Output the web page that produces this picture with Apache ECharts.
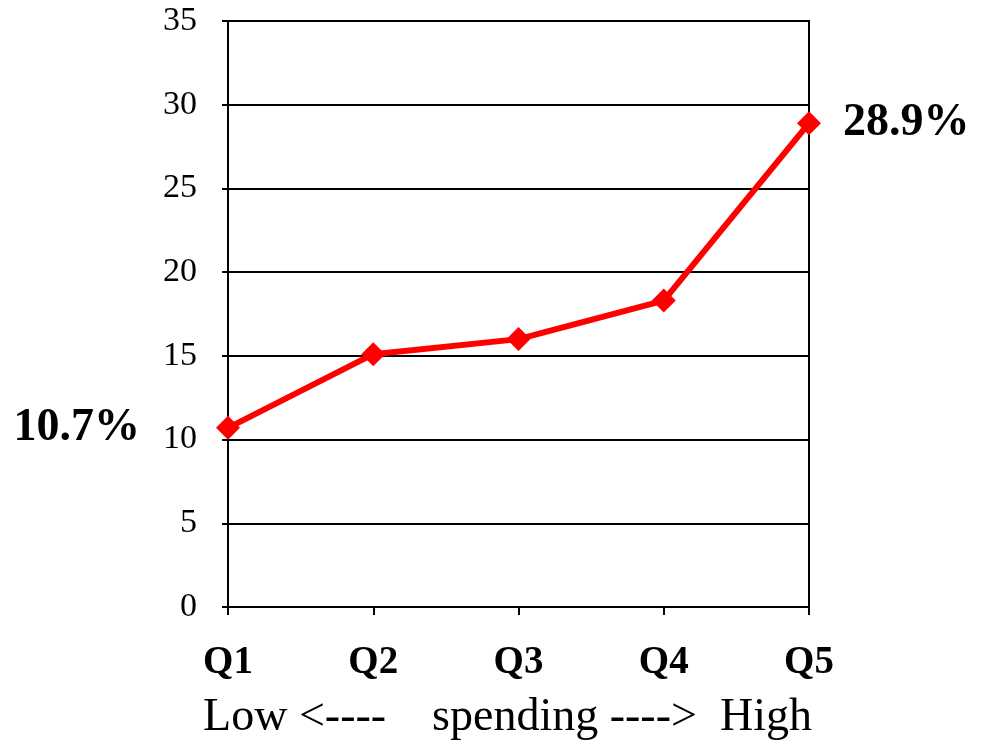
<!DOCTYPE html>
<html>
<head>
<meta charset="utf-8">
<script src="https://cdn.jsdelivr.net/npm/echarts@6/dist/echarts.min.js"></script>
<style>
  html, body { margin: 0; padding: 0; background: #fff; }
  #chart { width: 984px; height: 743px; }
</style>
</head>
<body>
<div id="chart"></div>
<script>
// Share by spending quintile (percent)
const quintiles = ['Q1', 'Q2', 'Q3', 'Q4', 'Q5'];
const shareValues = [10.7, 15.1, 16.0, 18.3, 28.9];
const axisTitle = 'Low <----    spending ---->  High';

const serif = '"Liberation Serif", "DejaVu Serif", serif';
const chart = echarts.init(document.getElementById('chart'));

chart.setOption({
  animation: false,
  backgroundColor: '#ffffff',
  grid: {
    left: 228, right: 175, top: 21, bottom: 136,
    outerBoundsMode: 'none',
    containLabel: false,
    show: true, borderColor: '#000', borderWidth: 2, backgroundColor: 'transparent'
  },
  xAxis: {
    type: 'category',
    data: quintiles,
    boundaryGap: false,
    axisLine: { lineStyle: { color: '#000', width: 2 } },
    axisTick: { show: true, length: 8, alignWithLabel: true, lineStyle: { color: '#000', width: 2 } },
    axisLabel: { color: '#000', fontFamily: serif, fontWeight: 'bold', fontSize: 39, margin: 36 },
    name: axisTitle,
    nameLocation: 'middle',
    nameGap: 88,
    nameTextStyle: { color: '#000', fontFamily: serif, fontSize: 46, padding: [0, 22, 0, 0] }
  },
  yAxis: {
    type: 'value',
    min: 0, max: 35, interval: 5,
    axisLine: { show: true, lineStyle: { color: '#000', width: 2 } },
    axisTick: { show: true, length: 6, lineStyle: { color: '#000', width: 2 } },
    axisLabel: { color: '#000', fontFamily: serif, fontSize: 34, margin: 31 },
    splitLine: { show: true, lineStyle: { color: '#000', width: 2 } }
  },
  series: [{
    type: 'line',
    data: shareValues.map((v, i) => {
      const item = { value: v };
      if (i === 0) {
        item.label = { show: true, position: 'left', distance: 76 };
      } else if (i === shareValues.length - 1) {
        item.label = { show: true, position: 'right', distance: 22 };
      }
      return item;
    }),
    symbol: 'diamond',
    symbolSize: 24,
    lineStyle: { color: '#ff0000', width: 6 },
    itemStyle: { color: '#ff0000' },
    label: {
      show: false,
      color: '#000',
      fontFamily: serif,
      fontWeight: 'bold',
      fontSize: 46,
      formatter: p => p.value + '%'
    },
    z: 5
  }]
});
</script>
</body>
</html>
